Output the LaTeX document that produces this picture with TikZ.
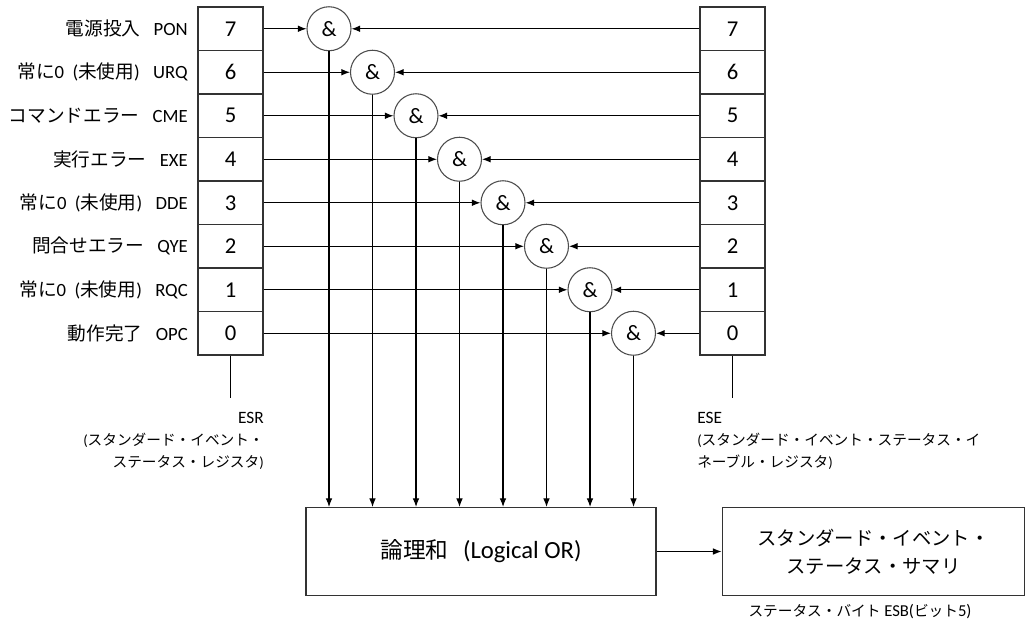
\documentclass[tikz,border=0pt]{standalone}
\usepackage{fontspec}
\setmainfont{Carlito}
\newfontfamily\jp{Noto Sans CJK JP}
\newcommand{\jlab}[1]{{\jp\fontsize{14}{17}\selectfont #1}}
\usetikzlibrary{arrows.meta,positioning}

\begin{document}
\begin{tikzpicture}[x=0.75pt, y=-0.75pt,
  bitcell/.style={rectangle, draw=black!80, line width=0.8pt,
                  minimum width=48.75pt, minimum height=32.6pt, inner sep=0pt,
                  font=\fontsize{17}{20}\selectfont},
  andgate/.style={circle, draw=black!70, line width=0.8pt, fill=white,
                  minimum size=33pt, inner sep=0pt,
                  font=\fontsize{16.5}{20}\selectfont},
  bitname/.style={anchor=east, inner sep=0pt, font=\fontsize{14}{16}\selectfont},
  conn/.style={-{Latex[length=6.5pt,width=5pt]}, line width=0.8pt},
  wire/.style={line width=0.8pt}
]
\useasboundingbox (0,0) rectangle (1027,629);

% bit names
\node[bitname] (n7) at (188,28.75)  {\jlab{電源投入}\hspace{10pt}PON};
\node[bitname] (n6) at (188,72.25)  {\jlab{常に}0~~(\jlab{未使用})\hspace{10pt}URQ};
\node[bitname] (n5) at (188,115.75) {\jlab{コマンドエラー}\hspace{10pt}CME};
\node[bitname] (n4) at (188,159.25) {\jlab{実行エラー}\hspace{10pt}EXE};
\node[bitname] (n3) at (188,202.75) {\jlab{常に}0~~(\jlab{未使用})\hspace{10pt}DDE};
\node[bitname] (n2) at (188,246.25) {\jlab{問合せエラー}\hspace{10pt}QYE};
\node[bitname] (n1) at (188,289.75) {\jlab{常に}0~~(\jlab{未使用})\hspace{10pt}RQC};
\node[bitname] (n0) at (188,333.25) {\jlab{動作完了}\hspace{10pt}OPC};

% ESR register
\node[bitcell] (l7) at (230.5,28.75)  {7};
\node[bitcell] (l6) at (230.5,72.25)  {6};
\node[bitcell] (l5) at (230.5,115.75) {5};
\node[bitcell] (l4) at (230.5,159.25) {4};
\node[bitcell] (l3) at (230.5,202.75) {3};
\node[bitcell] (l2) at (230.5,246.25) {2};
\node[bitcell] (l1) at (230.5,289.75) {1};
\node[bitcell] (l0) at (230.5,333.25) {0};

% ESE register
\node[bitcell] (r7) at (732.5,28.75)  {7};
\node[bitcell] (r6) at (732.5,72.25)  {6};
\node[bitcell] (r5) at (732.5,115.75) {5};
\node[bitcell] (r4) at (732.5,159.25) {4};
\node[bitcell] (r3) at (732.5,202.75) {3};
\node[bitcell] (r2) at (732.5,246.25) {2};
\node[bitcell] (r1) at (732.5,289.75) {1};
\node[bitcell] (r0) at (732.5,333.25) {0};

% AND gates
\node[andgate] (g7) at (329,28.75)    {\&};
\node[andgate] (g6) at (372.5,72.25)  {\&};
\node[andgate] (g5) at (416,115.75)   {\&};
\node[andgate] (g4) at (459.5,159.25) {\&};
\node[andgate] (g3) at (503,202.75)   {\&};
\node[andgate] (g2) at (546.5,246.25) {\&};
\node[andgate] (g1) at (590,289.75)   {\&};
\node[andgate] (g0) at (633.5,333.25) {\&};

% OR and summary
\node[draw=black!80, line width=0.8pt, minimum width=262.5pt, minimum height=66pt]
  (orbox) at (481,551.5)
  {{\jp\fontsize{17}{20}\selectfont 論理和}\hspace{11pt}{\fontsize{18.5}{20}\selectfont (Logical OR)}};
\node[draw=black!80, line width=0.8pt, minimum width=227pt, minimum height=66pt,
      align=center, font=\jp\fontsize{14.5}{21}\selectfont]
  (esb) at (873.5,551.5) {スタンダード・イベント・\\ステータス・サマリ};
\node[font=\fontsize{12.5}{15}\selectfont] (esbnote) at (860,612)
  {{\jp\fontsize{11}{15}\selectfont ステータス・バイト}~ESB({\jp\fontsize{11}{15}\selectfont ビット}5)};

% register captions
\coordinate (esrend) at (230.5,398);
\coordinate (eseend) at (732.5,398);
\draw[wire] (l0) -- (esrend);
\draw[wire] (r0) -- (eseend);
\node[anchor=north east, align=right, inner sep=0pt, font=\jp\fontsize{11}{16.5}\selectfont]
  (esrlab) at (264,412)
  {{\rmfamily\fontsize{13}{16.5}\selectfont ESR}\\{\rmfamily(}スタンダード・イベント・\\ステータス・レジスタ{\rmfamily)}};
\node[anchor=north west, align=left, inner sep=0pt, font=\jp\fontsize{11}{16.5}\selectfont]
  (eselab) at (697,412)
  {{\rmfamily\fontsize{13}{16.5}\selectfont ESE}\\{\rmfamily(}スタンダード・イベント・ステータス・イ\\ネーブル・レジスタ{\rmfamily)}};

% ESR bits into gates
\draw[conn] (l7) -- (g7);
\draw[conn] (l6) -- (g6);
\draw[conn] (l5) -- (g5);
\draw[conn] (l4) -- (g4);
\draw[conn] (l3) -- (g3);
\draw[conn] (l2) -- (g2);
\draw[conn] (l1) -- (g1);
\draw[conn] (l0) -- (g0);

% ESE bits into gates
\draw[conn] (r7) -- (g7);
\draw[conn] (r6) -- (g6);
\draw[conn] (r5) -- (g5);
\draw[conn] (r4) -- (g4);
\draw[conn] (r3) -- (g3);
\draw[conn] (r2) -- (g2);
\draw[conn] (r1) -- (g1);
\draw[conn] (r0) -- (g0);

% gates down to OR
\draw[conn] (g7) -- (g7 |- orbox.north);
\draw[conn] (g6) -- (g6 |- orbox.north);
\draw[conn] (g5) -- (g5 |- orbox.north);
\draw[conn] (g4) -- (g4 |- orbox.north);
\draw[conn] (g3) -- (g3 |- orbox.north);
\draw[conn] (g2) -- (g2 |- orbox.north);
\draw[conn] (g1) -- (g1 |- orbox.north);
\draw[conn] (g0) -- (g0 |- orbox.north);

\draw[conn] (orbox) -- (esb);
\end{tikzpicture}
\end{document}
